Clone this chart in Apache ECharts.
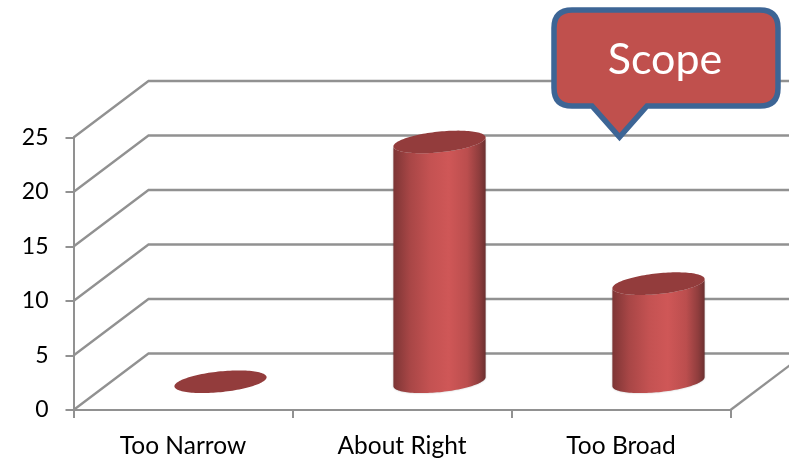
<!DOCTYPE html>
<html><head><meta charset="utf-8">
<style>html,body{margin:0;padding:0;background:#fff}#c{width:789px;height:459px}</style>
<script src="https://cdn.jsdelivr.net/npm/echarts@6/dist/echarts.min.js"></script>
</head><body><div id="c"></div>
<script>
const categories = ['Too Narrow', 'About Right', 'Too Broad'];
const values = [0, 22, 9];
const yTicks = [0, 5, 10, 15, 20, 25];
const calloutText = ['Scope'];

const FONT = 'Lato, Carlito, "Open Sans", sans-serif';
const DEPTH_X = 75, DEPTH_Y = -56.5;
const LINE = '#919191';

const chart = echarts.init(document.getElementById('c'), null, {renderer: 'canvas'});

function renderWalls(params, api) {
  const v = api.value(0);
  const cs = params.coordSys;
  const p = api.coord([0, v]);
  const y = p[1], x0 = cs.x, x1 = cs.x + cs.width;
  const children = [{
    type: 'polyline', silent: true,
    shape: {points: [[x0, y], [x0 + DEPTH_X, y + DEPTH_Y], [x1 + DEPTH_X, y + DEPTH_Y]]},
    style: {stroke: LINE, lineWidth: 2.3, fill: null, lineJoin: 'miter'}
  }];
  if (v === 0) {
    children.push({
      type: 'line', silent: true,
      shape: {x1: x1, y1: y, x2: x1 + DEPTH_X, y2: y + DEPTH_Y},
      style: {stroke: LINE, lineWidth: 2.3}
    });
  }
  return {type: 'group', children};
}

function renderCylinder(params, api) {
  const idx = api.value(0), val = api.value(1);
  const band = api.size([1, 0])[0];
  const a = band * 0.2105, c = 4.5, d = 10.4;
  const top = api.coord([idx, val]), base = api.coord([idx, 0]);
  const cx = top[0] + DEPTH_X / 2;
  const yTop = top[1] + DEPTH_Y / 2, yBase = base[1] + DEPTH_Y / 2;
  const pt = (t, cy) => [cx + a * Math.cos(t), cy - c * Math.cos(t) + d * Math.sin(t)];
  const ellipse = [], body = [];
  const N = 60;
  for (let i = 0; i < N * 2; i++) ellipse.push(pt(i / N * Math.PI, yTop));
  for (let i = 0; i <= N; i++) body.push(pt(Math.PI - i / N * Math.PI, yBase));
  for (let i = 0; i <= N; i++) body.push(pt(i / N * Math.PI, yTop));
  const children = [];
  if (val > 0) {
    children.push({
      type: 'polygon', silent: true, shape: {points: body},
      style: {
        fill: new echarts.graphic.LinearGradient(0, 0, 1, 0, [
          {offset: 0, color: '#7d3535'},
          {offset: 0.18, color: '#a84646'},
          {offset: 0.40, color: '#c45252'},
          {offset: 0.60, color: '#cf5757'},
          {offset: 0.80, color: '#bb4e4e'},
          {offset: 0.93, color: '#8f3d3d'},
          {offset: 1, color: '#6c3030'}
        ]),
        shadowColor: 'rgba(0,0,0,0.25)', shadowBlur: 2
      }
    });
  }
  children.push({type: 'polygon', silent: true, shape: {points: ellipse}, style: {fill: '#933c3c'}});
  return {type: 'group', children};
}

function renderCallout(params, api) {
  return {type: 'group', children: [
    {type: 'path', silent: true,
      shape: {
        pathData: 'M572 10 H760 Q778 10 778 28 V88 Q778 106 760 106 H647 L619.5 137 L592 106 H572 Q554 106 554 88 V28 Q554 10 572 10 Z',
        x: 554, y: 10, width: 224, height: 127, layout: 'cover'
      },
      style: {fill: '#c0504d', stroke: '#3d6595', lineWidth: 5.5, lineJoin: 'miter'}},
    {type: 'text', silent: true, x: 665, y: 60,
      style: {text: calloutText[0], fill: '#fff', font: '43px ' + FONT,
        align: 'center', verticalAlign: 'middle'}}
  ]};
}

chart.setOption({
  animation: false,
  backgroundColor: '#fff',
  grid: {left: 73.5, right: 58.5, top: 137.5, bottom: 49, containLabel: false},
  xAxis: {
    type: 'category', data: categories,
    axisLine: {lineStyle: {color: LINE, width: 2}},
    axisTick: {show: true, length: 8, alignWithLabel: false, lineStyle: {color: LINE, width: 2}},
    axisLabel: {color: '#000', fontFamily: FONT, fontSize: 24.5, margin: 24}
  },
  yAxis: {
    type: 'value', min: 0, max: 25, interval: 5,
    axisLine: {show: true, lineStyle: {color: LINE, width: 2}},
    axisTick: {show: true, length: 8, lineStyle: {color: LINE, width: 2}},
    axisLabel: {color: '#000', fontFamily: FONT, fontSize: 23, margin: 25, padding: [6, 0, 0, 0]},
    splitLine: {show: false}
  },
  series: [
    {type: 'custom', clip: false, z: 1, renderItem: renderWalls,
      data: yTicks.map(v => [v]), encode: {y: 0}},
    {type: 'custom', clip: false, z: 2, renderItem: renderCylinder,
      data: values.map((v, i) => [i, v]), encode: {x: 0, y: 1}},
    {type: 'custom', clip: false, z: 10, renderItem: renderCallout,
      data: calloutText.map(t => [0, 0])}
  ]
});
</script></body></html>
